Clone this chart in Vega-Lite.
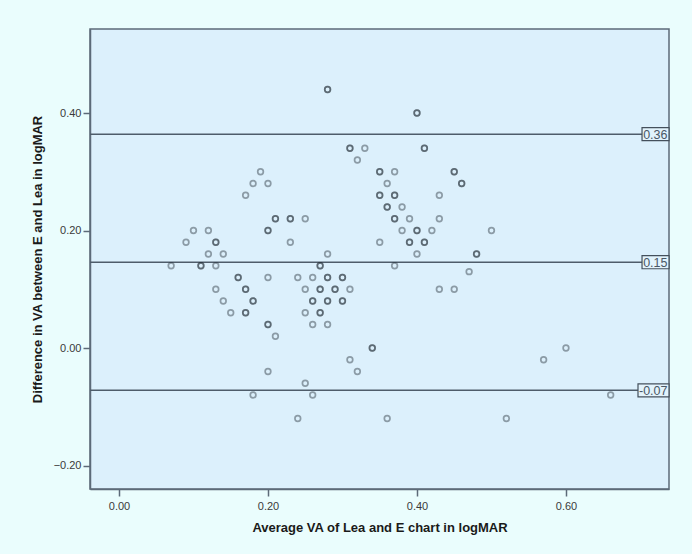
{
  "$schema": "https://vega.github.io/schema/vega-lite/v6.json",
  "width": 579,
  "height": 460,
  "autosize": {"type": "none"},
  "padding": {"left": 90, "top": 29, "right": 23, "bottom": 65},
  "background": "#eafdfd",
  "config": {
    "font": "Liberation Sans",
    "view": {"fill": "#dcf0fc", "stroke": "#5c6a78", "strokeWidth": 1.5},
    "axis": {
      "grid": false,
      "domainColor": "#5c6a78",
      "domainWidth": 1.5,
      "tickColor": "#5c6a78",
      "tickWidth": 1.5,
      "tickSize": 7,
      "labelFontSize": 11,
      "labelColor": "#3a3a3a",
      "titleFontSize": 13,
      "titleFontWeight": "bold",
      "titleColor": "#1a1a1a"
    }
  },
  "datasets": {
    "cases": [
      {"avg": 0.19, "diff": 0.30}, {"avg": 0.18, "diff": 0.28}, {"avg": 0.20, "diff": 0.28}, {"avg": 0.17, "diff": 0.26},
      {"avg": 0.21, "diff": 0.22}, {"avg": 0.21, "diff": 0.22},
      {"avg": 0.20, "diff": 0.20}, {"avg": 0.20, "diff": 0.20},
      {"avg": 0.10, "diff": 0.20}, {"avg": 0.12, "diff": 0.20}, {"avg": 0.09, "diff": 0.18},
      {"avg": 0.13, "diff": 0.18}, {"avg": 0.13, "diff": 0.18},
      {"avg": 0.12, "diff": 0.16}, {"avg": 0.14, "diff": 0.16}, {"avg": 0.07, "diff": 0.14},
      {"avg": 0.11, "diff": 0.14}, {"avg": 0.11, "diff": 0.14},
      {"avg": 0.13, "diff": 0.14},
      {"avg": 0.16, "diff": 0.12}, {"avg": 0.16, "diff": 0.12},
      {"avg": 0.20, "diff": 0.12}, {"avg": 0.13, "diff": 0.10},
      {"avg": 0.17, "diff": 0.10}, {"avg": 0.17, "diff": 0.10},
      {"avg": 0.14, "diff": 0.08},
      {"avg": 0.18, "diff": 0.08}, {"avg": 0.18, "diff": 0.08},
      {"avg": 0.15, "diff": 0.06},
      {"avg": 0.17, "diff": 0.06}, {"avg": 0.17, "diff": 0.06},
      {"avg": 0.20, "diff": 0.04}, {"avg": 0.20, "diff": 0.04},
      {"avg": 0.21, "diff": 0.02},
      {"avg": 0.28, "diff": 0.44}, {"avg": 0.28, "diff": 0.44},
      {"avg": 0.40, "diff": 0.40}, {"avg": 0.40, "diff": 0.40},
      {"avg": 0.31, "diff": 0.34}, {"avg": 0.31, "diff": 0.34},
      {"avg": 0.33, "diff": 0.34}, {"avg": 0.32, "diff": 0.32},
      {"avg": 0.35, "diff": 0.30}, {"avg": 0.35, "diff": 0.30},
      {"avg": 0.37, "diff": 0.30}, {"avg": 0.36, "diff": 0.28},
      {"avg": 0.35, "diff": 0.26}, {"avg": 0.35, "diff": 0.26},
      {"avg": 0.37, "diff": 0.26}, {"avg": 0.37, "diff": 0.26},
      {"avg": 0.36, "diff": 0.24}, {"avg": 0.36, "diff": 0.24},
      {"avg": 0.38, "diff": 0.24},
      {"avg": 0.37, "diff": 0.22}, {"avg": 0.37, "diff": 0.22},
      {"avg": 0.39, "diff": 0.22}, {"avg": 0.38, "diff": 0.20},
      {"avg": 0.40, "diff": 0.20}, {"avg": 0.40, "diff": 0.20},
      {"avg": 0.39, "diff": 0.18}, {"avg": 0.39, "diff": 0.18},
      {"avg": 0.35, "diff": 0.18}, {"avg": 0.40, "diff": 0.16},
      {"avg": 0.23, "diff": 0.22}, {"avg": 0.23, "diff": 0.22},
      {"avg": 0.25, "diff": 0.22}, {"avg": 0.23, "diff": 0.18}, {"avg": 0.28, "diff": 0.16},
      {"avg": 0.27, "diff": 0.14}, {"avg": 0.27, "diff": 0.14},
      {"avg": 0.37, "diff": 0.14}, {"avg": 0.24, "diff": 0.12}, {"avg": 0.26, "diff": 0.12},
      {"avg": 0.28, "diff": 0.12}, {"avg": 0.28, "diff": 0.12},
      {"avg": 0.30, "diff": 0.12}, {"avg": 0.30, "diff": 0.12},
      {"avg": 0.25, "diff": 0.10},
      {"avg": 0.27, "diff": 0.10}, {"avg": 0.27, "diff": 0.10},
      {"avg": 0.29, "diff": 0.10}, {"avg": 0.29, "diff": 0.10},
      {"avg": 0.31, "diff": 0.10},
      {"avg": 0.26, "diff": 0.08}, {"avg": 0.26, "diff": 0.08},
      {"avg": 0.28, "diff": 0.08}, {"avg": 0.28, "diff": 0.08},
      {"avg": 0.30, "diff": 0.08}, {"avg": 0.30, "diff": 0.08},
      {"avg": 0.25, "diff": 0.06},
      {"avg": 0.27, "diff": 0.06}, {"avg": 0.27, "diff": 0.06},
      {"avg": 0.26, "diff": 0.04}, {"avg": 0.28, "diff": 0.04},
      {"avg": 0.34, "diff": 0.00}, {"avg": 0.34, "diff": 0.00},
      {"avg": 0.31, "diff": -0.02},
      {"avg": 0.41, "diff": 0.34}, {"avg": 0.41, "diff": 0.34},
      {"avg": 0.45, "diff": 0.30}, {"avg": 0.45, "diff": 0.30},
      {"avg": 0.46, "diff": 0.28}, {"avg": 0.46, "diff": 0.28},
      {"avg": 0.43, "diff": 0.26}, {"avg": 0.43, "diff": 0.22}, {"avg": 0.42, "diff": 0.20}, {"avg": 0.50, "diff": 0.20},
      {"avg": 0.41, "diff": 0.18}, {"avg": 0.41, "diff": 0.18},
      {"avg": 0.48, "diff": 0.16}, {"avg": 0.48, "diff": 0.16},
      {"avg": 0.47, "diff": 0.13}, {"avg": 0.43, "diff": 0.10}, {"avg": 0.45, "diff": 0.10},
      {"avg": 0.20, "diff": -0.04}, {"avg": 0.18, "diff": -0.08}, {"avg": 0.24, "diff": -0.12},
      {"avg": 0.25, "diff": -0.06}, {"avg": 0.26, "diff": -0.08}, {"avg": 0.32, "diff": -0.04},
      {"avg": 0.36, "diff": -0.12}, {"avg": 0.52, "diff": -0.12}, {"avg": 0.57, "diff": -0.02},
      {"avg": 0.60, "diff": 0.00}, {"avg": 0.66, "diff": -0.08}
    ],
    "limits": [
      {"value": 0.364, "label": "0.36"},
      {"value": 0.146, "label": "0.15"},
      {"value": -0.072, "label": "-0.07"}
    ]
  },
  "layer": [
    {
      "data": {"name": "limits"},
      "mark": {"type": "rule", "color": "#4e5c6a", "strokeWidth": 1.5},
      "encoding": {
        "y": {"field": "value", "type": "quantitative", "scale": {"domain": [-0.24, 0.543], "nice": false, "zero": false}}
      }
    },
    {
      "data": {"name": "cases"},
      "mark": {"type": "point", "shape": "circle", "filled": false, "stroke": "#1e2830", "strokeOpacity": 0.6, "size": 32, "strokeWidth": 1.7},
      "encoding": {
        "x": {
          "field": "avg", "type": "quantitative",
          "scale": {"domain": [-0.0389, 0.7383], "nice": false, "zero": false},
          "axis": {"values": [0, 0.2, 0.4, 0.6], "format": ".2f", "labelPadding": 4, "titlePadding": 10, "title": "Average VA of Lea and E chart in logMAR"}
        },
        "y": {
          "field": "diff", "type": "quantitative",
          "scale": {"domain": [-0.24, 0.543], "nice": false, "zero": false},
          "axis": {"values": [-0.2, 0, 0.2, 0.4], "format": ".2f", "labelPadding": 2, "titlePadding": 9, "title": "Difference in VA between E and Lea in logMAR"}
        }
      }
    },
    {
      "data": {"name": "limits"},
      "mark": {"type": "point", "filled": false, "fill": "#e2f3fc", "fillOpacity": 1, "stroke": "#44505c", "strokeWidth": 1.2, "size": 961, "opacity": 1},
      "encoding": {
        "x": {"value": "width"},
        "y": {"field": "value", "type": "quantitative"},
        "shape": {
          "field": "label", "type": "nominal", "legend": null,
          "scale": {
            "domain": ["0.36", "0.15", "-0.07"],
            "range": ["M-1.74,-0.42L0,-0.42L0,0.42L-1.74,0.42Z", "M-1.74,-0.42L0,-0.42L0,0.42L-1.74,0.42Z", "M-2,-0.42L0,-0.42L0,0.42L-2,0.42Z"]
          }
        }
      }
    },
    {
      "data": {"name": "limits"},
      "mark": {"type": "text", "align": "right", "baseline": "middle", "dx": -1.5, "dy": 0.5, "fontSize": 12.5, "color": "#4a5866"},
      "encoding": {
        "x": {"value": "width"},
        "y": {"field": "value", "type": "quantitative"},
        "text": {"field": "label"}
      }
    }
  ]
}
